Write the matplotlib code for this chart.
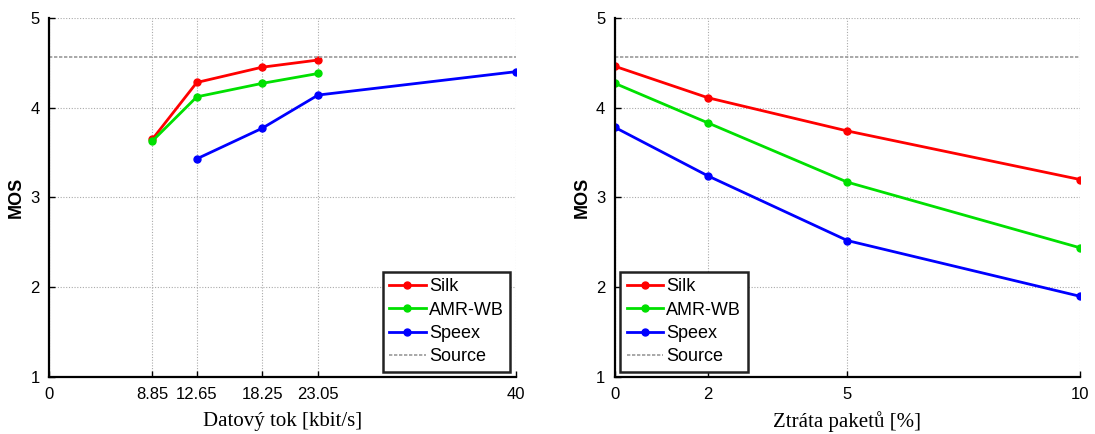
import matplotlib
matplotlib.use("Agg")
import matplotlib.pyplot as plt

# left panel: MOS vs bitrate
rate_ticks = [0, 8.85, 12.65, 18.25, 23.05, 40]
silk_rate = [8.85, 12.65, 18.25, 23.05]
silk_mos = [3.65, 4.28, 4.45, 4.53]
amr_rate = [8.85, 12.65, 18.25, 23.05]
amr_mos = [3.63, 4.12, 4.27, 4.38]
speex_rate = [12.65, 18.25, 23.05, 40]
speex_mos = [3.43, 3.77, 4.14, 4.40]

# right panel: MOS vs packet loss
loss = [0, 2, 5, 10]
silk_loss = [4.46, 4.11, 3.74, 3.20]
amr_loss = [4.27, 3.83, 3.17, 2.44]
speex_loss = [3.78, 3.24, 2.52, 1.90]

source_mos = 4.56

matplotlib.rcParams.update({'font.family': 'Liberation Sans', 'font.size': 11})

fig = plt.figure(figsize=(10.95, 4.34), dpi=100)
ax1 = fig.add_axes([0.045, 0.131, 0.426, 0.828])
ax2 = fig.add_axes([0.5616, 0.131, 0.4247, 0.828])

def style(ax, xticks, xlabel, legend_loc):
    ax.axhline(source_mos, color='#999999', lw=1.2, ls=(0, (2, 1)), label='Source')
    ax.set_ylim(1, 5)
    ax.set_yticks([1, 2, 3, 4, 5])
    ax.set_xticks(xticks)
    ax.set_xticklabels(['{:g}'.format(t) for t in xticks])
    ax.set_xlim(xticks[0], xticks[-1])
    ax.grid(True, color='#aaaaaa', ls=(0, (1, 1.5)), lw=0.8)
    ax.set_axisbelow(True)
    for s in ['top', 'right']:
        ax.spines[s].set_visible(False)
    for s in ['left', 'bottom']:
        ax.spines[s].set_linewidth(1.6)
    ax.tick_params(direction='in', length=4, width=1, labelsize=12, pad=7)
    ax.set_ylabel('MOS', fontweight='bold', fontsize=13)
    ax.set_xlabel(xlabel, family='Liberation Serif', fontsize=15, labelpad=7)
    leg = ax.legend(loc=legend_loc, fancybox=False, fontsize=13, handlelength=2.0,
                    handletextpad=0.2, borderpad=0.35, labelspacing=0.35,
                    borderaxespad=0.3)
    leg.get_frame().set_edgecolor('#222222')
    leg.get_frame().set_linewidth(1.8)
    leg.get_frame().set_alpha(1)

kw = dict(marker='o', ms=5, lw=2)
ax1.plot(silk_rate, silk_mos, color='#ff0000', label='Silk', **kw)
ax1.plot(amr_rate, amr_mos, color='#00e000', label='AMR-WB', **kw)
ax1.plot(speex_rate, speex_mos, color='#0000ff', label='Speex', **kw)
style(ax1, rate_ticks, 'Datový tok [kbit/s]', 'lower right')

ax2.plot(loss, silk_loss, color='#ff0000', label='Silk', **kw)
ax2.plot(loss, amr_loss, color='#00e000', label='AMR-WB', **kw)
ax2.plot(loss, speex_loss, color='#0000ff', label='Speex', **kw)
style(ax2, loss, 'Ztráta paketů [%]', 'lower left')

fig.savefig('out.png', dpi=100)
